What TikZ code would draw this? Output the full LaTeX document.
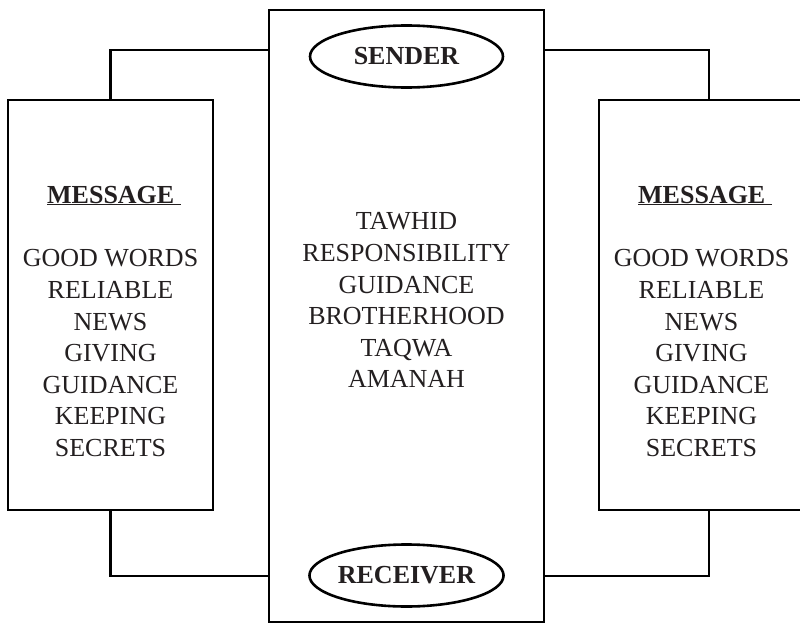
\documentclass[tikz,border=0pt]{standalone}
\usepackage{xcolor}
\usepackage{fontspec}
\setmainfont{Liberation Serif}
\usepackage{tikz}
\usetikzlibrary{shapes.geometric}
\definecolor{ink}{HTML}{231F20}
\tikzset{ msg_box/.style = {rectangle, draw, line width=2.6pt, minimum width=205pt, minimum height=410pt} }
\tikzset{ core_box/.style = {rectangle, draw, line width=2.6pt, minimum width=275pt, minimum height=612pt} }
\tikzset{ role_oval/.style = {ellipse, draw, line width=2.6pt, fill=white, minimum width=193pt, minimum height=62pt, inner sep=0pt, text=ink, font=\bfseries\fontsize{26pt}{31.6pt}\selectfont} }
\tikzset{ box_title/.style = {anchor=base, inner sep=0pt, text=ink, font=\bfseries\fontsize{26pt}{31.6pt}\selectfont} }
\tikzset{ item_list/.style = {anchor=north, align=center, inner sep=0pt, text=ink, font=\fontsize{26pt}{31.6pt}\selectfont} }
\tikzset{ link/.style = {line width=2.2pt} }

\begin{document}
\begin{tikzpicture}[x=1pt,y=-1pt]
    \useasboundingbox (0,0) rectangle (800,623);
    \node[msg_box] (leftbox) at (110.5, 305) {};
    \node[core_box] (centerbox) at (406.5, 316) {};
    \node[msg_box] (rightbox) at (701.5, 305) {};
    \node[role_oval] (sender) at (406.5, 56.5) {SENDER};
    \node[role_oval] (receiver) at (406.5, 575.5) {RECEIVER};
    \node[box_title] (lefttitle) at (114, 203) {\underline{MESSAGE\ }};
    \node[item_list] (leftlist) at (110.5, 249.5) {GOOD WORDS\\RELIABLE\\NEWS\\GIVING\\GUIDANCE\\KEEPING\\SECRETS};
    \node[box_title] (righttitle) at (705, 203) {\underline{MESSAGE\ }};
    \node[item_list] (rightlist) at (701.5, 249.5) {GOOD WORDS\\RELIABLE\\NEWS\\GIVING\\GUIDANCE\\KEEPING\\SECRETS};
    \node[item_list] (values) at (406.5, 212.5) {TAWHID\\RESPONSIBILITY\\GUIDANCE\\BROTHERHOOD\\TAQWA\\AMANAH};
    \draw[link] (leftbox.north) |- ([yshift=-41pt]centerbox.north west);
    \draw[link] (leftbox.south) |- ([yshift=47pt]centerbox.south west);
    \draw[link] ([xshift=7.5pt]rightbox.north) |- ([yshift=-41pt]centerbox.north east);
    \draw[link] ([xshift=7.5pt]rightbox.south) |- ([yshift=47pt]centerbox.south east);
\end{tikzpicture}
\end{document}
